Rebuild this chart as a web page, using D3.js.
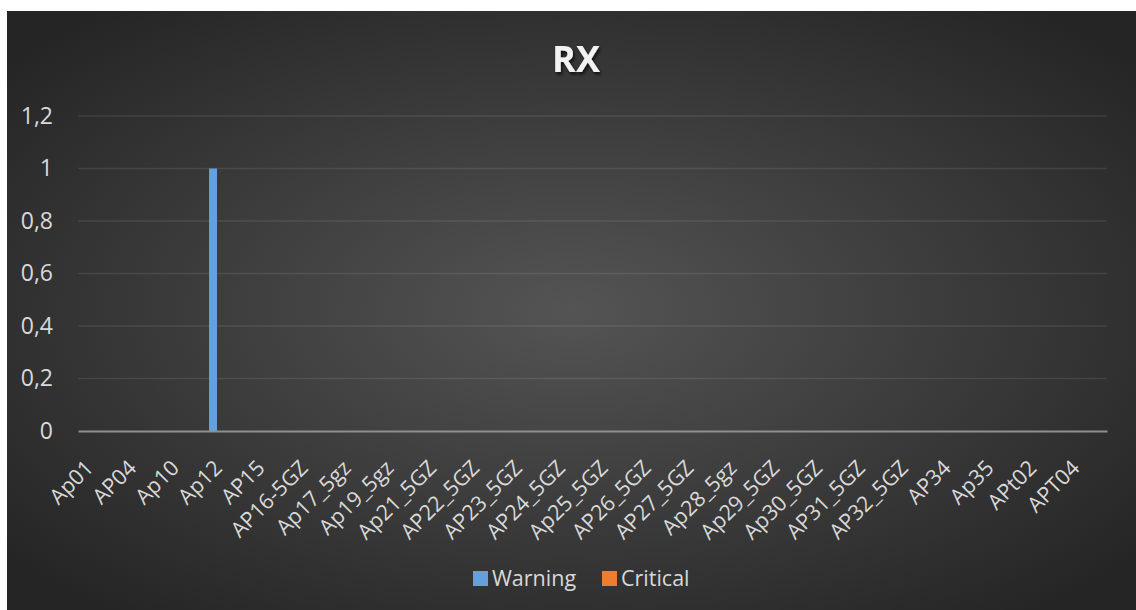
<!DOCTYPE html>
<html>
<head>
<meta charset="utf-8">
<script src="https://cdn.jsdelivr.net/npm/d3@7"></script>
<style>
  html, body { margin: 0; padding: 0; background: #ffffff; }
  svg { display: block; }
  text { font-family: "Open Sans", Lato, sans-serif; }
</style>
</head>
<body>
<svg id="chart" width="1136" height="610"></svg>
<script>
// ---- data ----
const categories = ["Ap01","AP04","Ap10","Ap12","AP15","AP16-5GZ","Ap17_5gz","Ap19_5gz","Ap21_5GZ","AP22_5GZ","AP23_5GZ","AP24_5GZ","Ap25_5GZ","AP26_5GZ","AP27_5GZ","Ap28_5gz","Ap29_5GZ","Ap30_5GZ","AP31_5GZ","AP32_5GZ","AP34","Ap35","APt02","APT04"];
const seriesNames = ["Warning","Critical"];
const warningValues  = [0,0,0,1,0,0,0,0,0,0,0,0,0,0,0,0,0,0,0,0,0,0,0,0];
const criticalValues = [0,0,0,0,0,0,0,0,0,0,0,0,0,0,0,0,0,0,0,0,0,0,0,0];
const yTicks = [0,0.2,0.4,0.6,0.8,1,1.2];
const seriesColors = ["#64a0dc","#ed7d31"];
const title = "RX";

const svg = d3.select("#chart");
const W = 1136, H = 610;

// background gradient
const defs = svg.append("defs");
const rg = defs.append("radialGradient").attr("id","bg")
  .attr("cx","50%").attr("cy","50%").attr("r","65%")
  .attr("gradientUnits","objectBoundingBox");
rg.append("stop").attr("offset","0%").attr("stop-color","#545454");
rg.append("stop").attr("offset","100%").attr("stop-color","#252525");
const sh = defs.append("filter").attr("id","shadow").attr("x","-20%").attr("y","-20%").attr("width","140%").attr("height","160%");
sh.append("feDropShadow").attr("dx",1.5).attr("dy",2.5).attr("stdDeviation",1.8).attr("flood-color","#000").attr("flood-opacity",0.7);

svg.append("rect").attr("x",7).attr("y",11).attr("width",W-7).attr("height",H-11).attr("fill","url(#bg)");

const margin = {left:78, right:1107, top:116, bottom:431};

const x = d3.scaleBand().domain(categories).range([margin.left, margin.right]).paddingInner(0).paddingOuter(0);
const y = d3.scaleLinear().domain([0,1.2]).range([margin.bottom, margin.top]);
const x1 = d3.scaleBand().domain(seriesNames).range([0, x.bandwidth()*0.485]).paddingInner(0).paddingOuter(0.3);

const fmt = v => d3.format(".1~f")(v).replace(".", ",");

// gridlines
svg.append("g").selectAll("line").data(yTicks.filter(t => t>0)).join("line")
  .attr("x1", margin.left).attr("x2", margin.right)
  .attr("y1", d => y(d)).attr("y2", d => y(d))
  .attr("stroke", "rgba(255,255,255,0.09)").attr("stroke-width", 1.3);

// y axis labels
const yAxis = d3.axisLeft(y).tickValues(yTicks).tickFormat(fmt).tickSize(0).tickPadding(0);
const yg = svg.append("g").attr("transform", `translate(${53},0)`).call(yAxis);
yg.select(".domain").remove();
yg.selectAll("text").attr("fill","#d9d9d9").style("font-size","23px").style("font-family","'Open Sans', sans-serif");

// bars
const seriesData = [warningValues, criticalValues];
const groups = svg.append("g").selectAll("g").data(categories).join("g")
  .attr("transform", d => `translate(${x(d)},0)`);
groups.selectAll("rect").data((d,i) => seriesNames.map((s,j) => ({s, v: seriesData[j][i], j})))
  .join("rect")
  .attr("x", d => x1(d.s)).attr("width", x1.bandwidth())
  .attr("y", d => y(d.v)).attr("height", d => y(0) - y(d.v))
  .attr("fill", d => seriesColors[d.j]);

// x axis
const xAxis = d3.axisBottom(x).tickSize(0).tickPadding(0);
const xg = svg.append("g").attr("transform", `translate(0,${margin.bottom})`).call(xAxis);
xg.select(".domain").attr("stroke","#8f8f8f").attr("stroke-width",2.2);
xg.selectAll(".tick text")
  .attr("fill","#d9d9d9").style("font-size","21.5px").style("font-family","'Open Sans', sans-serif")
  .attr("text-anchor","end").attr("dy","0.35em").attr("y",0)
  .attr("transform","translate(-10,33) rotate(-45)");

// title
svg.append("text").attr("x", 576).attr("y", 72).attr("text-anchor","middle")
  .attr("fill","#f2f2f2").style("font-size","36px").style("font-weight","bold")
  .attr("filter","url(#shadow)").text(title);

// legend
const legend = svg.append("g");
const legX = [473, 602];
seriesNames.forEach((s,i) => {
  legend.append("rect").attr("x", legX[i]).attr("y", 571).attr("width", 15).attr("height", 15).attr("fill", seriesColors[i]);
  legend.append("text").attr("x", legX[i]+19).attr("y", 586).attr("fill","#d9d9d9").style("font-size","21.5px").text(s);
});
</script>
</body>
</html>
